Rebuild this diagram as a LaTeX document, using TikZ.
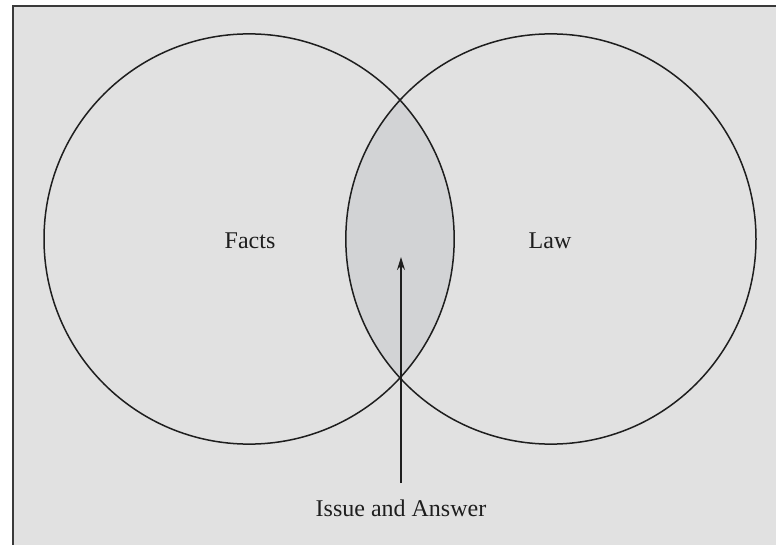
\documentclass[tikz,border=0pt]{standalone}
\usepackage{fontspec}
\setmainfont{Liberation Serif}
\usetikzlibrary{arrows.meta}
\definecolor{bgc}{HTML}{E1E1E1}
\definecolor{lensc}{HTML}{D2D3D5}
\definecolor{framec}{HTML}{3A3A3A}
\definecolor{linec}{HTML}{1E1E1E}
\tikzset{
  setc/.style={circle, draw=linec, line width=1.5pt, minimum size=410.2pt, inner sep=0pt},
  lbl/.style={font=\fontsize{24}{28}\selectfont, text=linec, inner sep=0pt},
  arr/.style={-{Stealth[length=13pt,width=8pt]}, line width=1.5pt, draw=linec}
}
\begin{document}
\begin{tikzpicture}[x=1pt,y=-1pt]
\useasboundingbox (0,0) rectangle (776,545);
\clip (0,0) rectangle (776,545);
\fill[white] (0,0) rectangle (776,545);
\draw[fill=bgc, draw=framec, line width=2pt] (12.5,6.5) rectangle (800,570);
\begin{scope}
  \clip (249.1,239) circle (205.1);
  \fill[lensc] (550.9,239) circle (205.1);
\end{scope}
\node[setc] (facts) at (249.1,239) {};
\node[setc] (law) at (550.9,239) {};
\node[lbl] (factslbl) at (250,241) {Facts};
\node[lbl] (lawlbl) at (550,241) {Law};
\node[lbl] (issue) at (401,508) {Issue and Answer};
\coordinate (start) at (401,483);
\coordinate (tip) at (401,257);
\draw[arr] (start) -- (tip);
\end{tikzpicture}
\end{document}
